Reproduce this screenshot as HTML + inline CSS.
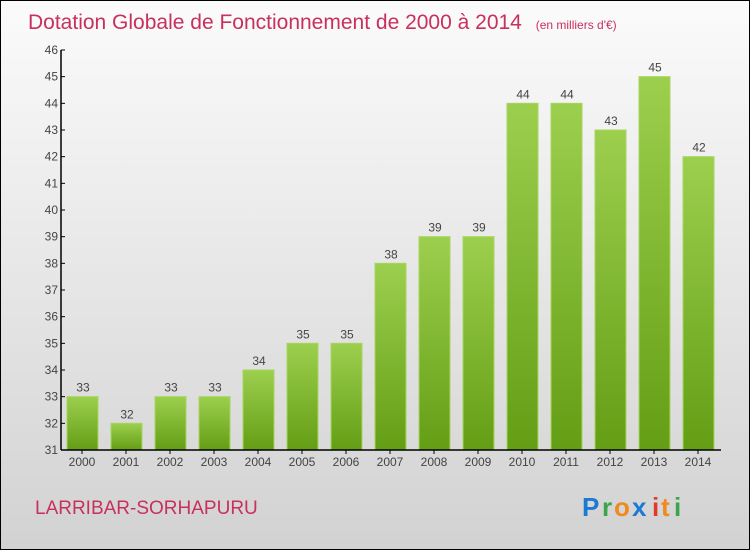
<!DOCTYPE html>
<html><head><meta charset="utf-8"><style>
body{margin:0;width:750px;height:550px;overflow:hidden;font-family:"Liberation Sans",sans-serif}
</style></head><body>
<svg width="750" height="550" xmlns="http://www.w3.org/2000/svg">
<defs>
<linearGradient id="bg" x1="0" y1="0" x2="0" y2="1"><stop offset="0" stop-color="#fbfbfb"/><stop offset="1" stop-color="#d2d2d2"/></linearGradient>
<linearGradient id="bar" x1="0" y1="0" x2="0" y2="1"><stop offset="0" stop-color="#9ccf4e"/><stop offset="1" stop-color="#649e15"/></linearGradient>
</defs>
<rect x="0.5" y="0.5" width="749" height="549" fill="url(#bg)" stroke="#000"/>
<text x="28" y="29" font-size="21" fill="#c8305e">Dotation Globale de Fonctionnement de 2000 à 2014 <tspan font-size="12" dx="8">(en milliers d'€)</tspan></text>
<g id="plot"></g>
<text x="35" y="514" font-size="19" fill="#c8305e">LARRIBAR-SORHAPURU</text>
<g font-size="26" font-weight="bold">
<text x="582" y="516" fill="#1a7ad4">P</text><text x="602" y="516" fill="#3aa64a">r</text><text x="614" y="516" fill="#f08a1c">o</text><text x="632" y="516" fill="#1a7ad4">x</text><text x="652" y="516" fill="#e03a2a">i</text><text x="661" y="516" fill="#f08a1c">t</text><text x="674" y="516" fill="#3aa64a">i</text>
</g>
</svg>
<script>
const years=["2000","2001","2002","2003","2004","2005","2006","2007","2008","2009","2010","2011","2012","2013","2014"];
const values=[33,32,33,33,34,35,35,38,39,39,44,44,43,45,42];
const yTicks=[31,32,33,34,35,36,37,38,39,40,41,42,43,44,45,46];
const NS="http://www.w3.org/2000/svg";
const g=document.getElementById('plot');
const y=v=>450-(v-31)*400/15;
const x=i=>82+i*44;
function mk(t,a,txt){const e=document.createElementNS(NS,t);for(const k in a)e.setAttribute(k,a[k]);if(txt!=null)e.textContent=txt;g.appendChild(e);return e;}
years.forEach((yr,i)=>{
 const r=mk('rect',{x:x(i)-15,y:y(values[i]),width:31,height:450-y(values[i]),fill:'url(#bar)',stroke:'#a6d65e','stroke-width':1});
 
 
 const l=mk('text',{x:x(i)+1,y:y(values[i])-5,'font-size':12,fill:'#444','text-anchor':'middle'},values[i]);
 
 
 const t=mk('text',{x:x(i),y:466,'font-size':12,fill:'#444','text-anchor':'middle'},yr);
 
 
 mk('line',{x1:x(i),x2:x(i),y1:450,y2:454,stroke:'#000'});
});
yTicks.forEach(v=>{
 mk('line',{x1:61,x2:65,y1:y(v),y2:y(v),stroke:'#000'});
 const t=mk('text',{x:58,y:y(v)+4,'font-size':12,fill:'#444','text-anchor':'end'},v);
 
 
});
const ax=mk('line',{x1:61,x2:61,y1:50,y2:450,stroke:'#000','stroke-width':1.5});


const bx=mk('line',{x1:61,x2:721,y1:450,y2:450,stroke:'#000','stroke-width':1.5});


</script>
</body></html>
